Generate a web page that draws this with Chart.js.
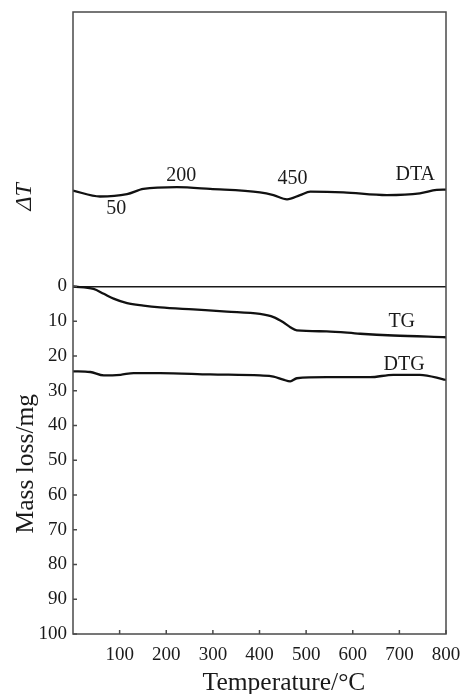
<!DOCTYPE html>
<html>
<head>
<meta charset="utf-8">
<script src="https://cdn.jsdelivr.net/npm/chart.js@4.4.1/dist/chart.umd.min.js"></script>
<style>
  html, body { margin: 0; padding: 0; background: #fff; }
  canvas { display: block; }
</style>
</head>
<body>
<canvas id="chart" width="462" height="694"></canvas>
<script>
// TG curve: mass loss (mg) vs temperature (°C)
const tgTemp = [0, 44, 66, 87, 116, 151, 187, 258, 330, 401, 430, 451, 466, 480, 544, 616, 687, 800];
const tgMass = [0, 0.7, 2.1, 3.5, 4.8, 5.5, 6.0, 6.6, 7.2, 7.9, 8.8, 10.3, 11.7, 12.6, 12.9, 13.6, 14.1, 14.6];

// DTG curve
const dtgTemp = [0, 37, 66, 102, 130, 187, 294, 401, 430, 451, 466, 480, 544, 637, 687, 744, 794, 800];
const dtgMass = [24.4, 24.6, 25.6, 25.4, 24.9, 24.9, 25.3, 25.6, 25.9, 26.8, 27.3, 26.4, 26.1, 26.1, 25.4, 25.4, 26.7, 26.9];

// DTA curve, drawn above the zero line (same axis units)
const dtaTemp = [0, 58, 116, 151, 223, 294, 401, 430, 459, 487, 509, 580, 673, 744, 780, 800];
const dtaSignal = [-27.6, -25.9, -26.6, -28.1, -28.6, -28.1, -27.1, -26.3, -25.1, -26.3, -27.3, -27.1, -26.3, -26.8, -27.8, -27.9];

const tempTicks = [100, 200, 300, 400, 500, 600, 700, 800];
const massTicks = [0, 10, 20, 30, 40, 50, 60, 70, 80, 90, 100];

// text written next to the curves
const curveLabels = ['50', '200', '450', 'DTA', 'TG', 'DTG'];
const labelTemp = [93, 232, 471, 734, 705, 710];
const labelValue = [-22.5, -31.9, -31.0, -32.2, 10.1, 22.6];

const serif = '"Liberation Serif", "Times New Roman", serif';
const ink = '#1a1a1a';

function toPoints(xs, ys) {
  return xs.map((v, i) => ({ x: v, y: ys[i] }));
}

function curve(label, xs, ys) {
  return {
    label: label,
    data: toPoints(xs, ys),
    borderColor: '#111',
    borderWidth: 2.3,
    pointRadius: 0,
    fill: false,
    cubicInterpolationMode: 'monotone'
  };
}

const framePlugin = {
  id: 'frame',
  afterDraw(chart) {
    const { ctx, chartArea: a, scales: { x, y } } = chart;
    ctx.save();
    ctx.strokeStyle = '#4a4a4a';
    ctx.lineWidth = 1.5;
    ctx.strokeRect(a.left, a.top, a.right - a.left, a.bottom - a.top);

    // short tick marks pointing into the plot
    ctx.beginPath();
    tempTicks.forEach(t => {
      const px = x.getPixelForValue(t);
      ctx.moveTo(px, a.bottom);
      ctx.lineTo(px, a.bottom - 4);
    });
    massTicks.forEach(m => {
      const py = y.getPixelForValue(m);
      ctx.moveTo(a.left, py);
      ctx.lineTo(a.left + 4, py);
    });
    ctx.stroke();

    ctx.fillStyle = ink;
    ctx.textAlign = 'center';
    ctx.textBaseline = 'middle';
    ctx.font = '20px ' + serif;
    curveLabels.forEach((s, i) => {
      ctx.fillText(s, x.getPixelForValue(labelTemp[i]), y.getPixelForValue(labelValue[i]));
    });

    // axis titles
    ctx.textBaseline = 'alphabetic';
    ctx.font = '25.5px ' + serif;
    ctx.fillText('Temperature/°C', a.right - 162, 690);

    ctx.save();
    ctx.translate(33, y.getPixelForValue(51));
    ctx.rotate(-Math.PI / 2);
    ctx.font = '25.5px ' + serif;
    ctx.fillText('Mass loss/mg', 0, 0);
    ctx.restore();

    ctx.save();
    ctx.translate(31, y.getPixelForValue(-25.8));
    ctx.rotate(-Math.PI / 2);
    ctx.font = 'italic 24px ' + serif;
    ctx.fillText('\u0394T', 0, 0);
    ctx.restore();

    ctx.restore();
  }
};

new Chart(document.getElementById('chart').getContext('2d'), {
  type: 'line',
  data: {
    datasets: [
      curve('DTA', dtaTemp, dtaSignal),
      curve('TG', tgTemp, tgMass),
      curve('DTG', dtgTemp, dtgMass)
    ]
  },
  options: {
    responsive: false,
    animation: false,
    devicePixelRatio: 1,
    layout: { padding: { top: 12, right: 16, left: 0, bottom: 0 } },
    plugins: {
      legend: { display: false },
      tooltip: { enabled: false }
    },
    scales: {
      x: {
        type: 'linear',
        min: 0,
        max: 800,
        afterBuildTicks: axis => { axis.ticks = tempTicks.map(v => ({ value: v })); },
        afterFit: axis => {
          axis.height = 60;
          axis.paddingLeft = 0;
          axis.paddingRight = 0;
        },
        grid: { display: false, drawTicks: false },
        border: { display: false },
        ticks: {
          color: ink,
          font: { family: serif, size: 19 },
          padding: 10,
          maxRotation: 0,
          autoSkip: false
        }
      },
      y: {
        type: 'linear',
        min: -79,
        max: 100,
        reverse: true,
        afterBuildTicks: axis => { axis.ticks = massTicks.map(v => ({ value: v })); },
        afterFit: axis => {
          axis.width = 73;
          axis.paddingTop = 0;
          axis.paddingBottom = 0;
        },
        grid: {
          drawTicks: false,
          lineWidth: 1.6,
          color: c => (c.tick && c.tick.value === 0 ? '#1a1a1a' : 'rgba(0,0,0,0)')
        },
        border: { display: false },
        ticks: {
          color: ink,
          font: { family: serif, size: 19 },
          padding: 6,
          autoSkip: false
        }
      }
    }
  },
  plugins: [framePlugin]
});
</script>
</body>
</html>
